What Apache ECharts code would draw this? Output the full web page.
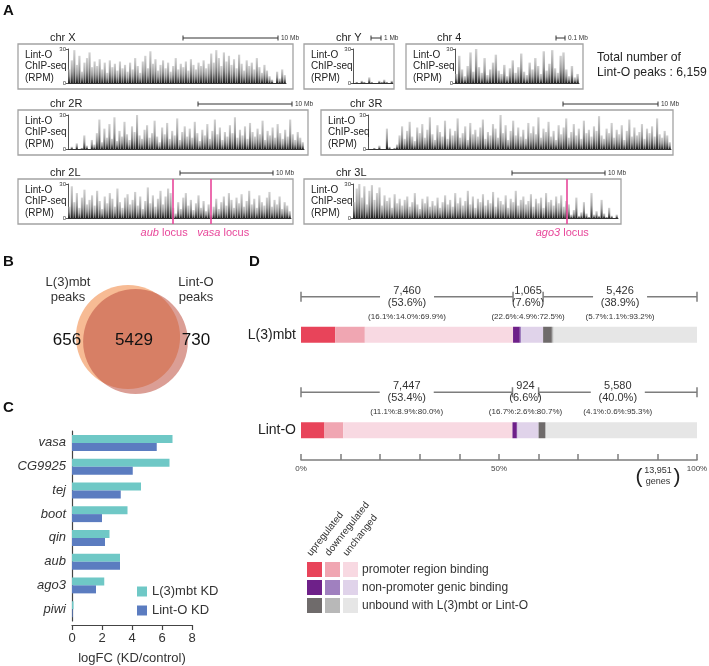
<!DOCTYPE html>
<html><head><meta charset="utf-8">
<script src="https://cdn.jsdelivr.net/npm/echarts@6/dist/echarts.min.js"></script>
<style>html,body{margin:0;padding:0;background:#fff}#c{width:709px;height:666px}</style>
</head><body><div id="c"></div><script>
// ================= DATA =================
// Panel A: Lint-O ChIP-seq signal (RPM) per genomic bin
const chrX = [12,20,29,16,24,10,18,22,27,14,19,
  15,21,12,18,9,20,14,17,11,19,13,16,10,
  18,12,22,15,9,19,24,13,28,
  17,21,11,16,20,13,18,10,15,22,12,17,
  14,19,11,21,16,12,18,15,20,13,17,
  26,18,29,22,15,27,19,24,
  16,21,13,25,17,11,20,15,
  18,12,22,14,9,16,11,6,
  3,0,10,4,12,7];
const chrY = [0,1,0,2,1,0,5,1,0,0,2,1,3,1,0,2];
const chr4 = [8,24,12,6,15,27,10,30,14,9,22,7,12,18,25,11,8,16,6,13,20,9,14,26,10,7,18,12,22,15,8,28,11,17,29,13,9,24,27,12,6,15,5,8];
const chr2R = [0,2,0,5,0,1,12,3,0,8,4,14,26,6,18,10,22,9,28,7,16,11,24,13,8,20,15,30,12,9,17,21,10,14,25,11,6,19,13,23,9,16,12,27,8,15,20,11,18,10,24,14,7,17,12,22,9,16,26,13,19,8,15,11,21,14,28,10,17,12,20,9,23,15,11,18,13,25,8,16,12,19,10,22,14,9,17,11,26,13,8,15,10,6];
const chr3R = [0,0,1,0,3,0,0,18,2,0,1,4,
  12,20,9,16,24,11,7,19,14,22,10,17,28,13,8,21,15,11,25,9,18,12,16,27,10,14,20,8,23,13,17,11,19,26,9,15,12,22,18,10,30,14,21,8,16,25,12,19,11,17,9,23,14,20,13,28,10,18,15,24,11,16,8,21,13,19,27,10,15,22,12,18,9,25,14,17,11,20,16,29,12,9,18,14,23,10,17,13,21,8,16,26,11,19,12,15,22,9,18,14,20,11,27,13,10,16,12,6];
const chr2L = [10,28,14,22,9,18,25,12,16,20,11,24,15,8,19,13,22,17,10,26,14,9,18,21,12,16,23,11,19,8,15,27,13,20,10,17,24,12,19,26,22,9,4,14,8,18,22,11,16,7,13,20,9,15,6,12,3,10,17,8,14,19,11,22,16,9,18,13,21,10,15,24,12,17,9,20,14,11,18,23,10,16,12,19,8,14,11,6];
const chr3L = [14,26,30,18,28,12,24,29,16,22,27,11,20,15,18,9,21,13,17,11,16,19,10,14,22,12,8,17,13,19,10,15,11,18,9,14,20,12,16,10,22,13,18,11,15,24,12,19,9,17,14,21,11,16,13,23,10,18,15,12,20,9,17,14,24,11,16,19,12,15,21,10,17,13,18,9,22,14,16,11,19,13,20,10,15,12,3,7,18,2,5,14,4,1,22,3,6,2,16,4,1,9,2,0,3];
const trackNames = ['chr X','chr Y','chr 4','chr 2R','chr 3R','chr 2L','chr 3L'];
const scaleLabels = ['10 Mb','1 Mb','0.1 Mb','10 Mb','10 Mb','10 Mb','10 Mb'];
const lociNames = ['aub','vasa','ago3'];
const lociChrom = ['chr 2L','chr 2L','chr 3L'];
const lociBin = [41,56,84];
const totalPeaks = 6159;

// Panel B
const vennNames = ['L(3)mbt peaks','Lint-O peaks'];
const vennOnly = [656,730];
const vennBoth = 5429;

// Panel C
const cGenes = ['vasa','CG9925','tej','boot','qin','aub','ago3','piwi'];
const cL3mbtKD = [6.7,6.5,4.6,3.7,2.5,3.2,2.15,0.1];
const cLintOKD = [5.65,4.05,3.25,2.0,2.2,3.2,1.6,0.05];
const cStarX = [7.75,7.75,5.55,4.7,3.5,4.3,3.35,null];
const cSeriesNames = ['L(3)mbt KD','Lint-O KD'];
const cTicks = [0,2,4,6,8];

// Panel D
const dRows = ['L(3)mbt','Lint-O'];
const dCounts = [[7460,1065,5426],[7447,924,5580]];
const dPct = [[53.6,7.6,38.9],[53.4,6.6,40.0]];
const dSplit = [[[16.1,14.0,69.9],[22.6,4.9,72.5],[5.7,1.1,93.2]],
                [[11.1,8.9,80.0],[16.7,2.6,80.7],[4.1,0.6,95.3]]];
const dTotalGenes = 13951;
const dClassNames = ['promoter region binding','non-promoter genic binding','unbound with L(3)mbt or Lint-O'];
const dStatusNames = ['upregulated','downregulated','unchanged'];

// ================= LAYOUT / STYLE =================
const FF = '"Liberation Sans", Arial, Helvetica, sans-serif';
const trackData = [chrX,chrY,chr4,chr2R,chr3R,chr2L,chr3L];
const trackLayout = [
  {box:[18,44,275,45], plot:[68,218], bar:[183,278], title:50},
  {box:[304,44,90,45], plot:[353,40], bar:[371,381], title:336},
  {box:[406,44,177,45], plot:[455,124], bar:[556,565], title:437},
  {box:[18,110,290,45], plot:[68,236], bar:[198,292], title:50},
  {box:[321,110,352,45], plot:[368,303], bar:[563,658], title:350},
  {box:[18,179,275,45], plot:[68,223], bar:[180,273], title:50},
  {box:[304,179,317,45], plot:[353,265], bar:[512,605], title:336}
];
const lociLabelPad = [[0,18,0,0],[0,0,0,24],[0,8,0,0]];
const PINK = '#e8479a';
const dColors = [['#e8445a','#f0a6b2','#f8d9e2'],['#6e2089','#a080bf','#e0d3ea'],['#6f6b6b','#b8b8b8','#e6e6e6']];

function T(x,y,text,o){o=o||{};return {type:'text',x:x,y:y,rotation:o.rot||0,silent:true,z:o.z||10,
  style:{text:text,fill:o.fill||'#222',fontSize:o.fs||11,fontFamily:FF,fontWeight:o.fw||'normal',
  fontStyle:o.it?'italic':'normal',align:o.al||'left',verticalAlign:o.va||'middle',rich:o.rich}};}
function Ln(x1,y1,x2,y2,c,w){return {type:'line',silent:true,z:10,shape:{x1:x1,y1:y1,x2:x2,y2:y2},style:{stroke:c||'#333',lineWidth:w||1}};}
function R(x,y,w,h,st){return {type:'rect',silent:true,z:st.z||5,shape:{x:x,y:y,width:w,height:h},style:st};}

const grids=[], xAxes=[], yAxes=[], series=[], graphics=[];
const grad = new echarts.graphic.LinearGradient(0,0,0,1,[
  {offset:0,color:'rgba(180,180,180,0.6)'},{offset:0.5,color:'rgba(125,125,125,0.78)'},{offset:1,color:'rgba(15,15,15,0.95)'}]);

// ---------- Panel A ----------
graphics.push(T(3,11,'A',{fs:15,fw:'bold',fill:'#111'}));
trackNames.forEach(function(nm,i){
  const L = trackLayout[i], d = trackData[i], gi = grids.length;
  const b = L.box;
  graphics.push(R(b[0],b[1],b[2],b[3],{fill:'none',stroke:'#a3a3a3',lineWidth:1.3}));
  graphics.push(T(L.title,b[1]-6.5,nm,{fs:11}));
  graphics.push(T(b[0]+7,b[1]+11,'Lint-O',{fs:10}));
  graphics.push(T(b[0]+7,b[1]+22.5,'ChIP-seq',{fs:10}));
  graphics.push(T(b[0]+7,b[1]+34,'(RPM)',{fs:10}));
  const sy = b[1]-6;
  graphics.push(Ln(L.bar[0],sy,L.bar[1],sy,'#333',1));
  graphics.push(Ln(L.bar[0],sy-2.5,L.bar[0],sy+2.5,'#333',1));
  graphics.push(Ln(L.bar[1],sy-2.5,L.bar[1],sy+2.5,'#333',1));
  graphics.push(T(L.bar[1]+3,sy,scaleLabels[i],{fs:6.5,fill:'#333'}));
  grids.push({left:L.plot[0],top:b[1]+5,width:L.plot[1],height:34,outerBoundsMode:'none'});
  const cats = d.map(function(_,k){return k;});
  xAxes.push({gridIndex:gi,type:'category',data:cats,boundaryGap:true,
    axisLine:{show:true,lineStyle:{color:'#333',width:1}},axisTick:{show:false},axisLabel:{show:false},splitLine:{show:false}});
  yAxes.push({gridIndex:gi,type:'value',min:0,max:30,interval:30,
    axisLine:{show:true,lineStyle:{color:'#555',width:1}},axisTick:{show:true,length:2,lineStyle:{color:'#555'}},
    axisLabel:{fontSize:6,margin:2,color:'#333',fontFamily:FF},splitLine:{show:false}});
  series.push({type:'bar',xAxisIndex:gi,yAxisIndex:gi,data:d,barWidth:'85%',silent:true,itemStyle:{color:grad}});
  const lines=[];
  lociNames.forEach(function(ln,k){ if(lociChrom[k]===nm){
    lines.push({xAxis:lociBin[k],label:{formatter:'{i|'+ln+'} locus',padding:lociLabelPad[k]}});
  }});
  if(lines.length){
    const oi = grids.length;
    grids.push({left:L.plot[0],top:b[1],width:L.plot[1],height:b[3],outerBoundsMode:'none'});
    xAxes.push({gridIndex:oi,type:'category',data:cats,boundaryGap:true,show:false});
    yAxes.push({gridIndex:oi,type:'value',min:0,max:1,show:false});
    series.push({type:'line',xAxisIndex:oi,yAxisIndex:oi,data:cats.map(function(){return null;}),showSymbol:false,silent:true,
      markLine:{silent:true,symbol:['none','none'],animation:false,
        lineStyle:{color:PINK,width:1.6,type:'solid'},
        label:{show:true,position:'start',distance:3,color:PINK,fontSize:11,fontFamily:FF,
          rich:{i:{fontStyle:'italic',fontSize:11,color:PINK,fontFamily:FF}}},
        data:lines}});
  }
});
graphics.push(T(597,58,'Total number of',{fs:12.2}));
graphics.push(T(597,73,'Lint-O peaks : '+totalPeaks.toLocaleString('en-US'),{fs:12.2}));

// ---------- Panel B ----------
graphics.push(T(3,262,'B',{fs:15,fw:'bold',fill:'#111'}));
(function(){
  const gi = grids.length;
  grids.push({left:124.25,top:287,width:15,height:100,outerBoundsMode:'none'});
  xAxes.push({gridIndex:gi,type:'category',data:vennNames,show:false});
  yAxes.push({gridIndex:gi,type:'value',min:-1,max:1,show:false});
  const tot = [vennOnly[0]+vennBoth, vennOnly[1]+vennBoth];
  series.push({type:'scatter',xAxisIndex:gi,yAxisIndex:gi,silent:true,clip:false,
    data:[
      {value:[vennNames[0],0],symbolSize:1.335*Math.sqrt(tot[0]),itemStyle:{color:'#f7bb94',opacity:1}},
      {value:[vennNames[1],0],symbolSize:1.335*Math.sqrt(tot[1]),symbolOffset:[0,4.5],itemStyle:{color:'rgba(190,78,62,0.55)',opacity:1}}
    ]});
  const nm0 = vennNames[0].split(' '), nm1 = vennNames[1].split(' ');
  graphics.push(T(68,282,nm0[0],{fs:13,al:'center',fill:'#333'}));
  graphics.push(T(68,297,nm0[1],{fs:13,al:'center',fill:'#333'}));
  graphics.push(T(196,282,nm1[0],{fs:13,al:'center',fill:'#333'}));
  graphics.push(T(196,297,nm1[1],{fs:13,al:'center',fill:'#333'}));
  graphics.push(T(67,340,String(vennOnly[0]),{fs:17,al:'center',fill:'#111',z:20}));
  graphics.push(T(134,340,String(vennBoth),{fs:17,al:'center',fill:'#111',z:20}));
  graphics.push(T(196,340,String(vennOnly[1]),{fs:17,al:'center',fill:'#111',z:20}));
})();

// ---------- Panel C ----------
graphics.push(T(3,408,'C',{fs:15,fw:'bold',fill:'#111'}));
(function(){
  const gi = grids.length;
  grids.push({left:72,top:431,width:120,height:190,outerBoundsMode:'none'});
  xAxes.push({gridIndex:gi,type:'value',min:cTicks[0],max:cTicks[cTicks.length-1],interval:cTicks[1]-cTicks[0],offset:4,
    axisLine:{show:true,lineStyle:{color:'#444',width:1.2}},axisTick:{show:true,length:5,lineStyle:{color:'#444',width:1.2}},
    axisLabel:{fontSize:13,color:'#333',margin:7,fontFamily:FF},splitLine:{show:false},
    name:'logFC (KD/control)',nameLocation:'middle',nameGap:27,nameTextStyle:{fontSize:13,color:'#333',fontFamily:FF}});
  yAxes.push({gridIndex:gi,type:'category',data:cGenes,inverse:true,
    axisLine:{show:true,lineStyle:{color:'#444',width:1.2}},axisTick:{show:false},
    axisLabel:{fontSize:13,fontStyle:'italic',color:'#333',margin:6,fontFamily:FF}});
  series.push({name:cSeriesNames[0],type:'bar',xAxisIndex:gi,yAxisIndex:gi,data:cL3mbtKD,barWidth:8,barGap:'0%',itemStyle:{color:'#6fc8c6'},silent:true});
  series.push({name:cSeriesNames[1],type:'bar',xAxisIndex:gi,yAxisIndex:gi,data:cLintOKD,barWidth:8,barGap:'0%',itemStyle:{color:'#5b7cc0'},silent:true});
  series.push({type:'scatter',xAxisIndex:gi,yAxisIndex:gi,silent:true,symbolSize:1,itemStyle:{opacity:0},
    data:cStarX.map(function(x,i){return x==null?null:[x,cGenes[i]];}),
    label:{show:true,position:'inside',formatter:'*',fontSize:11,color:'#333',fontFamily:FF}});
})();

// ---------- Panel D ----------
graphics.push(T(249,262,'D',{fs:15,fw:'bold',fill:'#111'}));
function renderD(params, api){
  const r = params.dataIndex;
  const yc = api.coord([0,r])[1];
  const X = function(v){return api.coord([v,r])[0];};
  const sum = dPct[r].reduce(function(a,b){return a+b;},0);
  const ch = [];
  let cum = 0; const edges=[0];
  dPct[r].forEach(function(gp,g){
    dSplit[r][g].forEach(function(sp,k){
      const w = gp*sp/sum;
      ch.push({type:'rect',shape:{x:X(cum),y:yc-8,width:X(cum+w)-X(cum),height:16},style:{fill:dColors[g][k]}});
      cum += w;
    });
    edges.push(cum);
  });
  const yl = yc-38, ls={stroke:'#7d7d7d',lineWidth:1.5};
  edges.forEach(function(e){ch.push({type:'line',shape:{x1:X(e),y1:yl-5,x2:X(e),y2:yl+5},style:ls});});
  const txt=function(x,y,s,fs){return {type:'text',style:{text:s,x:x,y:y,align:'center',verticalAlign:'middle',fontSize:fs,fill:'#333',fontFamily:FF}};};
  for(let g=0;g<3;g++){
    const a=X(edges[g]), b=X(edges[g+1]), m=(a+b)/2;
    if(b-a>80){
      ch.push({type:'line',shape:{x1:a,y1:yl,x2:m-27,y2:yl},style:ls});
      ch.push({type:'line',shape:{x1:m+27,y1:yl,x2:b,y2:yl},style:ls});
    }
    ch.push(txt(m,yc-44,dCounts[r][g].toLocaleString('en-US'),11));
    ch.push(txt(m,yc-32,'('+dPct[r][g].toFixed(1)+'%)',11));
    ch.push(txt(m,yc-18,'('+dSplit[r][g].map(function(v){return v.toFixed(1)+'%';}).join(':')+')',8));
  }
  return {type:'group',children:ch};
}
(function(){
  const gi = grids.length;
  grids.push({left:301,top:287,width:396,height:191,outerBoundsMode:'none'});
  xAxes.push({gridIndex:gi,type:'value',min:0,max:100,interval:10,offset:-18,
    axisLine:{show:true,lineStyle:{color:'#7d7d7d',width:1.5}},
    axisTick:{show:true,inside:true,length:6,lineStyle:{color:'#7d7d7d',width:1.5}},
    axisLabel:{fontSize:8,color:'#444',margin:5,fontFamily:FF,showMinLabel:true,showMaxLabel:true,
      formatter:function(v){return (v%50===0)? v+'%':'';}},splitLine:{show:false}});
  yAxes.push({gridIndex:gi,type:'category',data:dRows,inverse:true,
    axisLine:{show:false},axisTick:{show:false},axisLabel:{fontSize:14,color:'#222',margin:5,fontFamily:FF}});
  series.push({type:'custom',xAxisIndex:gi,yAxisIndex:gi,coordinateSystem:'cartesian2d',clip:false,silent:true,
    data:dRows.map(function(n,i){return [0,i];}),renderItem:renderD});
  graphics.push(T(639,477,'(',{fs:21,al:'center',fill:'#222'}));
  graphics.push(T(677,477,')',{fs:21,al:'center',fill:'#222'}));
  graphics.push(T(658,471,dTotalGenes.toLocaleString('en-US'),{fs:9,al:'center',fill:'#333'}));
  graphics.push(T(658,482,'genes',{fs:9,al:'center',fill:'#333'}));
  const cx=[307,325,343], cy=[562,580,598];
  dClassNames.forEach(function(cn,g){
    dStatusNames.forEach(function(sn,k){
      graphics.push(R(cx[k],cy[g],15,15,{fill:dColors[g][k]}));
    });
    graphics.push(T(362,cy[g]+7.5,cn,{fs:12,fill:'#333'}));
  });
  dStatusNames.forEach(function(sn,k){
    graphics.push(T(cx[k]+6,558,sn,{fs:10,fill:'#333',rot:52*Math.PI/180,va:'bottom'}));
  });
})();

const chart = echarts.init(document.getElementById('c'),null,{renderer:'canvas'});
chart.setOption({
  animation:false,
  backgroundColor:'#fff',
  textStyle:{fontFamily:FF},
  grid:grids, xAxis:xAxes, yAxis:yAxes, series:series,
  legend:[{data:cSeriesNames,orient:'vertical',left:137,top:585,itemWidth:10,itemHeight:10,itemGap:6,icon:'rect',
    padding:0,selectedMode:false,textStyle:{fontSize:13,color:'#333',fontFamily:FF}}],
  graphic:{elements:graphics}
});
</script></body></html>
